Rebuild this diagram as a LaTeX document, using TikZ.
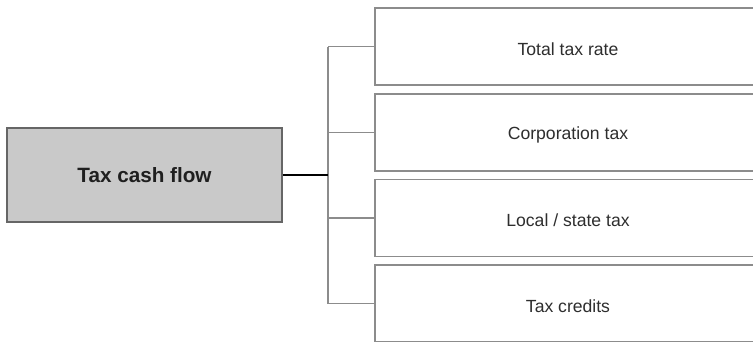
\documentclass[tikz,border=0pt]{standalone}
\usepackage{fontspec}
\setmainfont{Liberation Sans}
\begin{document}
\begin{tikzpicture}[x=1pt,y=-1pt,
  mainbox/.style={draw=black!60, line width=1.4pt, fill=black!21, minimum width=275pt, minimum height=94pt, inner sep=0pt, text=black!88, font=\fontsize{20.7}{24}\selectfont\bfseries},
  subbox/.style={draw=black!45, line width=1.4pt, fill=white, minimum width=386pt, minimum height=77pt, inner sep=0pt},
  sublabel/.style={yshift=-2.5pt, inner sep=0pt, text=black!82, font=\fontsize{17.6}{21}\selectfont},
  bracket/.style={draw=black!45, line width=1.2pt},
  conn/.style={draw=black, line width=1.3pt}]
\clip (0,0) rectangle (753,341);
\fill[white] (0,0) rectangle (753,341);
\node[mainbox] (main) at (144.5,175) {Tax cash flow};
\node[subbox, label={[sublabel]center:Total tax rate}] (s1) at (568,46.5) {};
\node[subbox, label={[sublabel]center:Corporation tax}] (s2) at (568,132.5) {};
\node[subbox, label={[sublabel]center:Local / state tax}] (s3) at (568,218) {};
\node[subbox, label={[sublabel]center:Tax credits}] (s4) at (568,303.5) {};
\coordinate (bt) at (328,46.5);
\coordinate (bb) at (328,303.5);
\coordinate (bm) at (328,175);
\draw[bracket] (bt) -- (bb);
\draw[bracket] (bt) -- (s1.west);
\draw[bracket] (328,132.5) -- (s2.west);
\draw[bracket] (328,218) -- (s3.west);
\draw[bracket] (bb) -- (s4.west);
\draw[conn] (main.east) -- (bm);
\end{tikzpicture}
\end{document}
